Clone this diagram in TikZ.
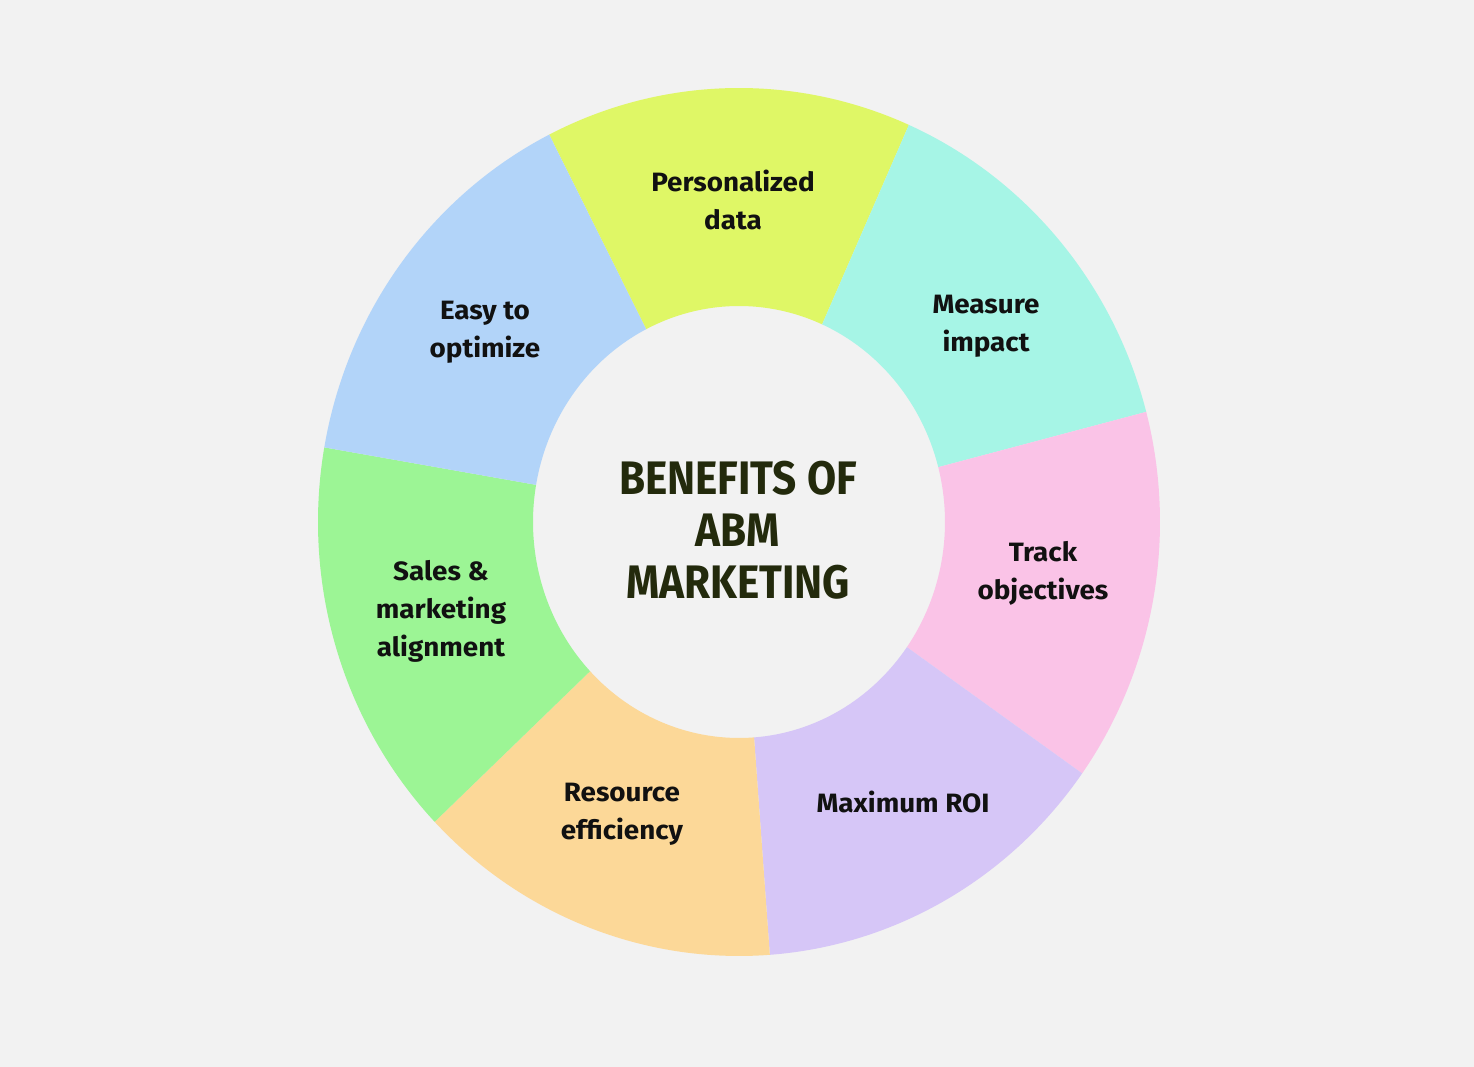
\documentclass[tikz,border=0pt]{standalone}
\usepackage{fontspec}
\setmainfont{Fira Sans}
\newfontfamily\titlefont[FakeStretch=0.9]{Fira Sans}
\newfontfamily\lblfont[FakeStretch=1.05]{Fira Sans}
\usetikzlibrary{calc}
\definecolor{bg}{HTML}{F2F2F2}
\definecolor{cyel}{HTML}{DFF766}
\definecolor{cmint}{HTML}{A6F5E6}
\definecolor{cpink}{HTML}{FAC3E7}
\definecolor{clav}{HTML}{D6C6F7}
\definecolor{cpeach}{HTML}{FCD898}
\definecolor{cgreen}{HTML}{9CF595}
\definecolor{cblue}{HTML}{B2D4F9}
\definecolor{ctitle}{HTML}{232A0C}
\definecolor{ctext}{HTML}{111111}
\tikzset{
  lbl/.style={align=center,text=ctext,font=\lblfont\fontsize{26.5}{38}\selectfont\bfseries},
  ttl/.style={align=center,text=ctitle,font=\titlefont\fontsize{47}{52}\selectfont\bfseries}
}
\newcommand{\seg}[3]{%
  \fill[#3] ($(C)+(#1:421pt and 434pt)$) arc[start angle=#1,end angle=#2,x radius=421pt,y radius=434pt]
    -- ($(C)+(#2:206pt and 216pt)$) arc[start angle=#2,end angle=#1,x radius=206pt,y radius=216pt] -- cycle;}
\begin{document}
\begin{tikzpicture}[x=1pt,y=1pt]
\fill[bg] (0,0) rectangle (1474,1067);
\useasboundingbox (0,0) rectangle (1474,1067);
\coordinate (C) at (739,545);
\seg{66.2}{116.8}{cyel}
\seg{14.7}{66.2}{cmint}
\seg{-35.4}{14.7}{cpink}
\seg{-85.8}{-35.4}{clav}
\seg{-136.3}{-85.8}{cpeach}
\seg{170.1}{223.7}{cgreen}
\seg{116.8}{170.1}{cblue}
\node[lbl] (pers) at (733,867) {Personalized\\data};
\node[lbl] (meas) at (986,741) {Measure\\impact};
\node[lbl] (track) at (1043,494) {Track\\objectives};
\node[lbl] (roi) at (903,265) {Maximum ROI};
\node[lbl] (res) at (622,253) {Resource\\efficiency};
\node[lbl] (sales) at (441,456) {Sales \&\\marketing\\alignment};
\node[lbl] (easy) at (485,735) {Easy to\\optimize};
\node[ttl] (title) at (738,537) {BENEFITS OF\\ABM\\MARKETING};
\end{tikzpicture}
\end{document}
